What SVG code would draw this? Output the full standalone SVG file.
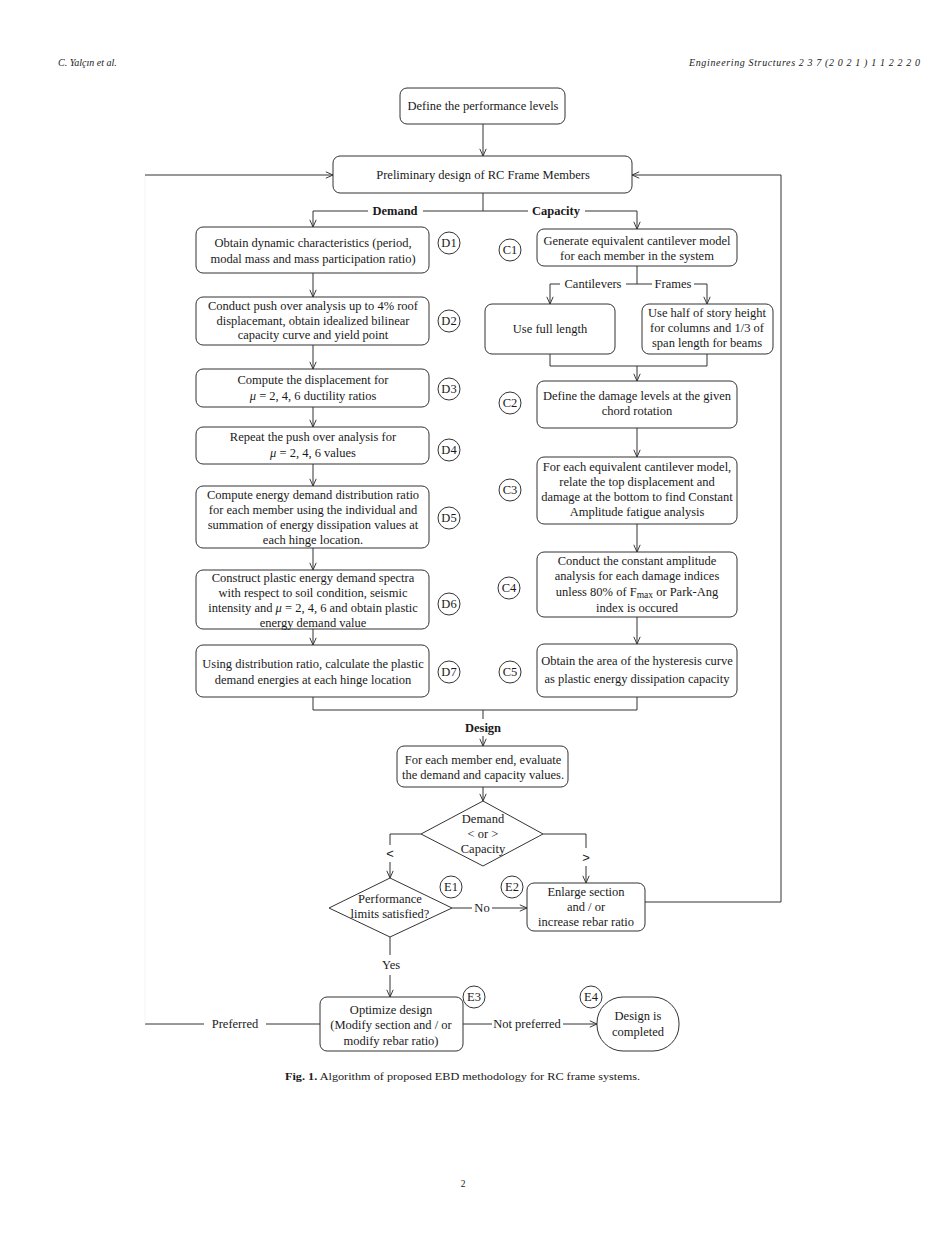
<svg xmlns="http://www.w3.org/2000/svg" width="925" height="1234" viewBox="0 0 925 1234">
<style>
text{font-family:"Liberation Serif","Times New Roman",serif;font-size:12.5px;fill:#1a1a1a;text-anchor:middle}
.b{font-weight:bold}
.box{fill:#fff;stroke:#333;stroke-width:1}
.c{fill:#fff;stroke:#333;stroke-width:1}
.ln{fill:none;stroke:#333;stroke-width:1}
.ar{fill:none;stroke:#333;stroke-width:1;marker-end:url(#arr)}
.hd{font-style:italic;font-size:10px}
.cmp{font-family:"Liberation Sans",Arial,sans-serif;font-size:13px}
</style>
<defs>
<marker id="arr" viewBox="0 0 10 10" refX="10" refY="5" markerWidth="8" markerHeight="8" markerUnits="userSpaceOnUse" orient="auto">
<path d="M1,1 L10,5 L1,9" fill="none" stroke="#333" stroke-width="1.2"/>
</marker>
</defs>
<rect width="925" height="1234" fill="#fff"/>
<text class="hd" x="58" y="66" style="text-anchor:start">C. Yalçın et al.</text>
<text class="hd" x="920" y="66" style="text-anchor:end" textLength="231" lengthAdjust="spacing">Engineering Structures 2 3 7  (2 0 2 1 ) 1 1 2 2 2 0</text>

<g id="connectors">
<path class="ar" d="M483,124 V156"/>
<path class="ln" d="M483,193 V211"/>
<path class="ar" d="M368,211 H313 V227"/>
<path class="ln" d="M423,211 H528"/>
<path class="ar" d="M585,211 H637 V229"/>
<path class="ar" d="M313,273 V297"/>
<path class="ar" d="M313,345 V369"/>
<path class="ar" d="M313,407 V427"/>
<path class="ar" d="M313,464 V486"/>
<path class="ar" d="M313,548 V570"/>
<path class="ar" d="M313,629 V645"/>
<path class="ln" d="M637,266 V284"/>
<path class="ar" d="M560,284 H550 V304"/>
<path class="ln" d="M626,284 H652"/>
<path class="ar" d="M694,284 H707 V304"/>
<path class="ln" d="M550,354 V366 H707 V354"/>
<path class="ar" d="M637,366 V381"/>
<path class="ar" d="M637,428 V457"/>
<path class="ar" d="M637,524 V552"/>
<path class="ar" d="M637,617 V644"/>
<path class="ln" d="M313,697 V710 H637 V697"/>
<path class="ln" d="M483,710 V719"/>
<path class="ar" d="M483,736 V746"/>
<path class="ar" d="M483,787 V801"/>
<path class="ln" d="M421,834 H390 V845"/>
<path class="ar" d="M390,862 V878"/>
<path class="ln" d="M543,834 H586 V848"/>
<path class="ar" d="M586,866 V883"/>
<path class="ln" d="M452,908 H472"/>
<path class="ar" d="M492,908 H527"/>
<path class="ln" d="M645,902 H781 V175"/>
<path class="ar" d="M781,175 H632"/>
<path class="ln" d="M390,937 V955"/>
<path class="ar" d="M390,975 V997"/>
<path class="ln" d="M463,1024 H492"/>
<path class="ar" d="M563,1024 H597"/>
<path class="ln" d="M320,1024 H266"/>
<path class="ln" d="M204,1024 H145"/>
<path fill="none" stroke="#eee" stroke-width="0.6" d="M145,1024 V175"/>
<path class="ar" d="M145,175 H333"/>
<text class="b" x="395" y="215">Demand</text>
<text class="b" x="556" y="215">Capacity</text>
<text x="593" y="288">Cantilevers</text>
<text x="673" y="288">Frames</text>
<text class="b" x="483" y="732">Design</text>
<text class="cmp" x="390" y="858">&lt;</text>
<text class="cmp" x="586" y="862">&gt;</text>
<text x="482" y="912">No</text>
<text x="391" y="969">Yes</text>
<text x="527" y="1028">Not preferred</text>
<text x="235" y="1028">Preferred</text>
</g>

<g id="define"><rect class="box" x="400" y="88" width="165" height="36" rx="7"/><text x="483" y="110">Define the performance levels</text></g>
<g id="prelim"><rect class="box" x="333" y="156" width="299" height="37" rx="7"/><text x="483" y="179">Preliminary design of RC Frame Members</text></g>

<g id="D1"><rect class="box" x="196" y="227" width="233" height="46" rx="7"/><text x="313" y="247">Obtain dynamic characteristics (period,</text><text x="313" y="263">modal mass and mass participation ratio)</text><circle class="c" cx="449" cy="243" r="11"/><text x="449" y="247">D1</text></g>
<g id="D2"><rect class="box" x="196" y="297" width="233" height="48" rx="7"/><text x="313" y="310">Conduct push over analysis up to 4% roof</text><text x="313" y="325">displacemant, obtain idealized bilinear</text><text x="313" y="339">capacity curve and yield point</text><circle class="c" cx="449" cy="321" r="11"/><text x="449" y="325">D2</text></g>
<g id="D3"><rect class="box" x="196" y="369" width="233" height="38" rx="7"/><text x="313" y="384">Compute the displacement for</text><text x="313" y="400"><tspan font-style="italic">μ</tspan> = 2, 4, 6 ductility ratios</text><circle class="c" cx="449" cy="389" r="11"/><text x="449" y="393">D3</text></g>
<g id="D4"><rect class="box" x="196" y="427" width="233" height="37" rx="7"/><text x="313" y="441">Repeat the push over analysis  for</text><text x="313" y="457"><tspan font-style="italic">μ</tspan> = 2, 4, 6 values</text><circle class="c" cx="449" cy="450" r="11"/><text x="449" y="454">D4</text></g>
<g id="D5"><rect class="box" x="196" y="486" width="233" height="62" rx="7"/><text x="313" y="499">Compute energy demand distribution ratio</text><text x="313" y="514">for each member using the individual and</text><text x="313" y="529">summation of energy dissipation values at</text><text x="313" y="544">each hinge location.</text><circle class="c" cx="449" cy="518" r="11"/><text x="449" y="522">D5</text></g>
<g id="D6"><rect class="box" x="196" y="570" width="233" height="59" rx="7"/><text x="313" y="582">Construct plastic energy demand spectra</text><text x="313" y="597">with respect to soil condition, seismic</text><text x="313" y="612">intensity and <tspan font-style="italic">μ</tspan> = 2, 4, 6 and obtain plastic</text><text x="313" y="627">energy demand value</text><circle class="c" cx="449" cy="604" r="11"/><text x="449" y="608">D6</text></g>
<g id="D7"><rect class="box" x="196" y="645" width="233" height="52" rx="7"/><text x="313" y="668">Using distribution ratio, calculate the plastic</text><text x="313" y="684">demand energies at each hinge location</text><circle class="c" cx="449" cy="672" r="11"/><text x="449" y="676">D7</text></g>

<g id="C1"><rect class="box" x="537" y="229" width="200" height="37" rx="7"/><text x="637" y="245">Generate equivalent cantilever model</text><text x="637" y="260">for each member in the system</text><circle class="c" cx="510" cy="250" r="11"/><text x="510" y="254">C1</text></g>
<g id="full"><rect class="box" x="485" y="304" width="130" height="50" rx="7"/><text x="550" y="333">Use full length</text></g>
<g id="half"><rect class="box" x="642" y="304" width="131" height="50" rx="7"/><text x="707" y="317">Use half of story height</text><text x="707" y="332">for columns and 1/3 of</text><text x="707" y="347">span length for beams</text></g>
<g id="C2"><rect class="box" x="537" y="381" width="200" height="47" rx="7"/><text x="637" y="400">Define the damage levels at the given</text><text x="637" y="415">chord rotation</text><circle class="c" cx="510" cy="403" r="11"/><text x="510" y="407">C2</text></g>
<g id="C3"><rect class="box" x="537" y="457" width="200" height="67" rx="7"/><text x="637" y="471">For each equivalent cantilever model,</text><text x="637" y="486">relate the top displacement and</text><text x="637" y="501">damage at the bottom to find Constant</text><text x="637" y="516">Amplitude fatigue analysis</text><circle class="c" cx="510" cy="490" r="11"/><text x="510" y="494">C3</text></g>
<g id="C4"><rect class="box" x="537" y="552" width="200" height="65" rx="7"/><text x="637" y="565">Conduct the constant amplitude</text><text x="637" y="580">analysis for each damage indices</text><text x="637" y="596">unless  80% of F<tspan font-size="9.5" dy="2">max</tspan><tspan dy="-2"> or Park-Ang</tspan></text><text x="637" y="612">index is occured</text><circle class="c" cx="509" cy="588" r="11"/><text x="509" y="592">C4</text></g>
<g id="C5"><rect class="box" x="537" y="644" width="200" height="53" rx="7"/><text x="637" y="665">Obtain the area of the hysteresis curve</text><text x="637" y="683">as plastic energy dissipation capacity</text><circle class="c" cx="510" cy="672" r="11"/><text x="510" y="676">C5</text></g>

<g id="evaluate"><rect class="box" x="397" y="746" width="171" height="41" rx="7"/><text x="483" y="764">For each member end, evaluate</text><text x="483" y="779">the demand and capacity values.</text></g>
<g id="compare"><path class="box" d="M483,801 L543,834 L483,866 L421,834 Z"/><text x="483" y="823">Demand</text><text x="483" y="838">&lt;  or  &gt;</text><text x="483" y="853">Capacity</text></g>
<g id="E1"><path class="box" d="M390,878 L452,908 L390,937 L329,908 Z"/><text x="390" y="903">Performance</text><text x="390" y="918">limits satisfied?</text><circle class="c" cx="451" cy="887" r="11"/><text x="451" y="891">E1</text></g>
<g id="E2"><rect class="box" x="527" y="883" width="118" height="48" rx="7"/><text x="586" y="896">Enlarge section</text><text x="586" y="911">and / or</text><text x="586" y="926">increase rebar ratio</text><circle class="c" cx="512" cy="887" r="11"/><text x="512" y="891">E2</text></g>
<g id="E3"><rect class="box" x="320" y="997" width="143" height="54" rx="7"/><text x="391" y="1014">Optimize design</text><text x="391" y="1029">(Modify section and / or</text><text x="391" y="1045">modify rebar ratio)</text><circle class="c" cx="474" cy="997" r="11"/><text x="474" y="1001">E3</text></g>
<g id="E4"><rect class="box" x="597" y="997" width="82" height="54" rx="26"/><text x="638" y="1020">Design is</text><text x="638" y="1036">completed</text><circle class="c" cx="591" cy="997" r="11"/><text x="591" y="1001">E4</text></g>

<text x="285" y="1080" style="text-anchor:start;font-size:11px" textLength="355" lengthAdjust="spacingAndGlyphs"><tspan font-weight="bold">Fig. 1.</tspan>  Algorithm of proposed EBD methodology for RC frame systems.</text>
<text x="463" y="1187" style="font-size:9.5px">2</text>
</svg>
